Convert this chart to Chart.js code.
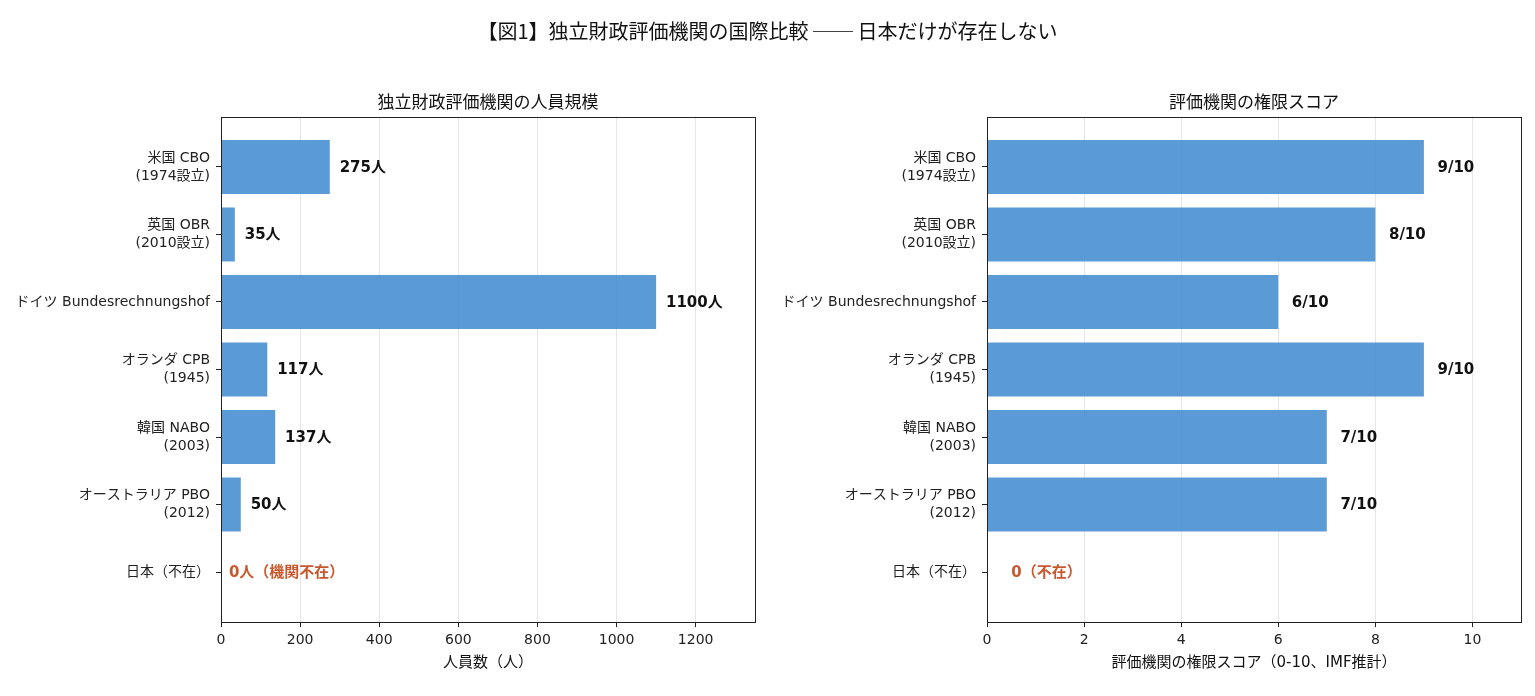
<!DOCTYPE html>
<html lang="ja">
<head>
<meta charset="utf-8">
<script src="https://cdn.jsdelivr.net/npm/chart.js@4"></script>
<style>
  html, body { margin: 0; padding: 0; background: #fff; }
  body { width: 1535px; height: 696px; position: relative; overflow: hidden;
         font-family: "DejaVu Sans", "Noto Sans CJK JP", sans-serif; }
  #mainTitle { position: absolute; left: 0; top: 19px; width: 1535px; text-align: center;
               font-family: "Noto Sans CJK JP", sans-serif;
               font-size: 20px; line-height: 24px; color: #111; z-index: 2; }
  .box { position: absolute; top: 0; height: 696px; }
  #leftBox { left: 0; width: 767px; }
  #rightBox { left: 767px; width: 768px; }
</style>
</head>
<body>
<div id="mainTitle">【図1】独立財政評価機関の国際比較 ── 日本だけが存在しない</div>
<div class="box" id="leftBox"><canvas id="staffCanvas"></canvas></div>
<div class="box" id="rightBox"><canvas id="scoreCanvas"></canvas></div>
<script>
// 機関名（上から順）
const agencies = [
  ["米国 CBO", "(1974設立)"],
  ["英国 OBR", "(2010設立)"],
  "ドイツ Bundesrechnungshof",
  ["オランダ CPB", "(1945)"],
  ["韓国 NABO", "(2003)"],
  ["オーストラリア PBO", "(2012)"],
  "日本（不在）"
];
const staff = [275, 35, 1100, 117, 137, 50, 0];
const staffLabels = ["275人", "35人", "1100人", "117人", "137人", "50人", "0人（機関不在）"];
const scores = [9, 8, 6, 9, 7, 7, 0];
const scoreLabels = ["9/10", "8/10", "6/10", "9/10", "7/10", "7/10", "0（不在）"];
const staffTicks = [0, 200, 400, 600, 800, 1000, 1200];
const scoreTicks = [0, 2, 4, 6, 8, 10];

const barColor = "rgba(73,144,208,0.9)";
const absentColor = "#C8582E";
const fontFamily = '"DejaVu Sans", "Noto Sans CJK JP", sans-serif';
const cjkFamily = '"Noto Sans CJK JP", sans-serif';

// 枠線（上・右も含めて四辺）
const frame = {
  id: "frame",
  afterDraw(chart) {
    const a = chart.chartArea, ctx = chart.ctx;
    ctx.save();
    ctx.strokeStyle = "#222";
    ctx.lineWidth = 1;
    ctx.strokeRect(Math.round(a.left) + 0.5, Math.round(a.top) + 0.5,
                   Math.round(a.right - a.left), Math.round(a.bottom - a.top));
    ctx.restore();
  }
};

// 棒の右側に値ラベル
function valueLabels(texts, gap, zeroGap) {
  return {
    id: "valueLabels",
    afterDatasetsDraw(chart) {
      const ctx = chart.ctx;
      const xs = chart.scales.x;
      const ds = chart.data.datasets[0].data;
      const meta = chart.getDatasetMeta(0);
      ctx.save();
      ctx.font = "bold 15px " + fontFamily;
      ctx.textBaseline = "middle";
      ctx.textAlign = "left";
      meta.data.forEach((bar, i) => {
        const v = ds[i].x;
        const x = xs.getPixelForValue(v + (v === 0 ? zeroGap : gap));
        ctx.fillStyle = v === 0 ? absentColor : "#111";
        ctx.fillText(texts[i], x, bar.y + 1);
      });
      ctx.restore();
    }
  };
}

function makeChart(canvas, values, texts, xMax, xTicks, xTitle, title, yWidth, rightPad, gap, zeroGap) {
  return new Chart(canvas, {
    type: "bar",
    data: {
      datasets: [{
        data: values.map((v, i) => ({ x: v, y: i })),
        backgroundColor: barColor,
        borderWidth: 0,
        barPercentage: 0.8,
        categoryPercentage: 1.0
      }]
    },
    options: {
      indexAxis: "y",
      responsive: true,
      maintainAspectRatio: false,
      animation: false,
      layout: { padding: { top: 0, right: rightPad, bottom: 0, left: 0 } },
      plugins: {
        legend: { display: false },
        tooltip: { enabled: false },
        title: {
          display: true,
          fullSize: false,
          text: title,
          color: "#111",
          font: { family: cjkFamily, size: 17, weight: "normal", lineHeight: 1.2 },
          padding: { top: 91, bottom: 5.6 }
        }
      },
      scales: {
        x: {
          type: "linear",
          min: 0,
          max: xMax,
          afterBuildTicks: axis => { axis.ticks = xTicks.map(v => ({ value: v })); },
          afterFit: axis => { axis.height = 74; },
          grid: { color: "#e6e6e6", tickColor: "#222", tickLength: 5, drawTicks: true },
          border: { color: "#222", width: 1 },
          ticks: { color: "#222", padding: 5, font: { family: fontFamily, size: 14 },
                   callback: v => String(v) },
          title: { display: true, text: xTitle, color: "#111", padding: { top: 0, bottom: 24 },
                   font: { family: fontFamily, size: 15 } }
        },
        y: {
          type: "linear",
          reverse: true,
          offset: false,
          min: -0.74,
          max: 6.74,
          afterBuildTicks: axis => { axis.ticks = agencies.map((_, i) => ({ value: i })); },
          afterFit: axis => { axis.width = yWidth; },
          grid: { drawOnChartArea: false, offset: false, tickColor: "#222", tickLength: 5 },
          border: { color: "#222", width: 1 },
          ticks: {
            color: "#222",
            padding: 6,
            autoSkip: false,
            font: { family: fontFamily, size: 14, lineHeight: 1.3 },
            callback: v => agencies[v]
          }
        }
      }
    },
    plugins: [frame, valueLabels(texts, gap, zeroGap)]
  });
}

makeChart(document.getElementById("staffCanvas"), staff, staffLabels, 1350, staffTicks,
  "人員数（人）", "独立財政評価機関の人員規模", 221, 12, 25, 20);
makeChart(document.getElementById("scoreCanvas"), scores, scoreLabels, 11, scoreTicks,
  "評価機関の権限スコア（0-10、IMF推計）", "評価機関の権限スコア", 220, 14, 0.28, 0.5);
</script>
</body>
</html>
